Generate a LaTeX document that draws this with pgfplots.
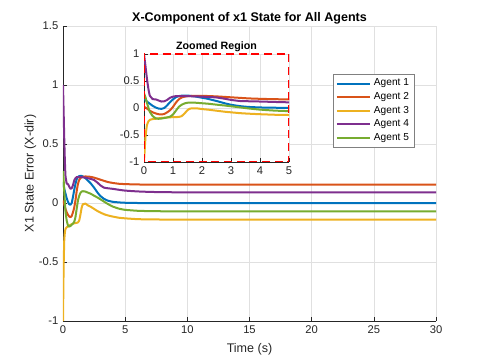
\documentclass[border=0pt]{standalone}
\usepackage{pgfplots}
\pgfplotsset{compat=1.18}
\usepackage{pgfplotstable}
\usepackage{fontspec}
\setmainfont{Liberation Sans}
\definecolor{c1}{rgb}{0,0.447,0.741}
\definecolor{c2}{rgb}{0.85,0.325,0.098}
\definecolor{c3}{rgb}{0.929,0.694,0.125}
\definecolor{c4}{rgb}{0.494,0.184,0.556}
\definecolor{c5}{rgb}{0.466,0.674,0.188}
\definecolor{axc}{rgb}{0.15,0.15,0.15}
\pgfplotstableread{
t    a1      a2      a3      a4      a5
0    0.18    0.02   -1.00    1.00    0.27
0.05 0.15    0.01   -0.55    0.78    0.20
0.1  0.12   -0.01   -0.32    0.55    0.10
0.15 0.10   -0.03   -0.25    0.36    0.01
0.2  0.08   -0.05   -0.22    0.23   -0.07
0.3  0.04   -0.08   -0.205   0.165  -0.15
0.4  0.01   -0.10   -0.20    0.16   -0.19
0.5 -0.01   -0.115  -0.19    0.14   -0.20
0.6 -0.015  -0.12   -0.185   0.12   -0.195
0.7  0.00   -0.11   -0.18    0.125  -0.185
0.8  0.05   -0.08   -0.175   0.15   -0.175
0.9  0.11   -0.04   -0.172   0.19   -0.16
1.0  0.16    0.02   -0.17    0.21   -0.12
1.1  0.20    0.10   -0.168   0.22   -0.05
1.2  0.22    0.16   -0.165   0.22    0.02
1.3  0.228   0.195  -0.15    0.22    0.06
1.4  0.23    0.21   -0.10    0.22    0.085
1.5  0.23    0.218  -0.04    0.22    0.097
1.6  0.225   0.222  -0.01    0.218   0.10
1.8  0.21    0.225  -0.005   0.215   0.097
2.0  0.19    0.224  -0.02    0.21    0.088
2.2  0.17    0.222  -0.03    0.205   0.08
2.5  0.13    0.215  -0.05    0.195   0.062
2.8  0.085   0.205  -0.07    0.17    0.045
3.0  0.06    0.198  -0.08    0.15    0.032
3.3  0.035   0.188  -0.095   0.13    0.012
3.6  0.02    0.178  -0.105   0.125  -0.008
4.0  0.01    0.17   -0.115   0.12   -0.03
4.5  0.005   0.163  -0.125   0.112  -0.048
5.0  0.002   0.16   -0.13    0.105  -0.058
6    0.0     0.157  -0.137   0.098  -0.066
7    0.0     0.156  -0.139   0.094  -0.069
8    0.0     0.155  -0.14    0.092  -0.07
10   0.0     0.155  -0.14    0.09   -0.07
15   0.0     0.155  -0.14    0.09   -0.07
20   0.0     0.155  -0.14    0.09   -0.07
30   0.0     0.155  -0.14    0.09   -0.07
}\data
\pgfplotsset{
  mstyle/.style={
    scale only axis,
    axis lines*=left,
    axis line style={axc,line width=0.5pt},
    tick align=inside,
    major tick length=3pt,
    tick style={axc,line width=0.5pt},
    grid=major,
    major grid style={black!12,line width=0.4pt},
    tick label style={font=\fontsize{8.4}{10}\selectfont,text=axc},
    /pgf/number format/assume math mode=true,
    every axis plot/.append style={line width=1.5pt,line join=round,smooth,tension=0.25},
    clip=true,
  }
}
\begin{document}
\begin{tikzpicture}[x=0.75pt,y=0.75pt]
\useasboundingbox (-63,-40) rectangle (419,321);
\begin{axis}[mstyle,
  at={(0pt,0pt)}, anchor=south west,
  width=279.75pt, height=221.25pt,
  xmin=0, xmax=30, ymin=-1, ymax=1.5,
  xtick={0,5,10,15,20,25,30},
  ytick={-1,-0.5,0,0.5,1,1.5},
  title={X-Component of x1 State for All Agents},
  title style={font=\bfseries\fontsize{9.4}{11}\selectfont, at={(0.5,1)}, anchor=south, yshift=-8pt},
  xlabel={Time (s)},
  xlabel style={font=\fontsize{9.4}{11}\selectfont,text=axc, at={(axis description cs:0.5,0)}, anchor=center, yshift=-21.5pt},
  ylabel={X1 State Error (X-dir)},
  ylabel style={font=\fontsize{9.4}{11}\selectfont,text=axc, at={(axis description cs:0,0.5)}, anchor=center, rotate=0, yshift=24.5pt},
  legend style={at={(rel axis cs:0.724,0.837)}, anchor=north west,
    font=\fontsize{7.6}{9}\selectfont, draw=black!50, line width=0.4pt,
    inner xsep=2pt, inner ysep=1.5pt, row sep=-0.6pt},
  legend cell align=left,
  legend image code/.code={\draw[#1,line width=1.5pt] (0pt,0pt) -- (25pt,0pt);},
]
\addplot[c1] table[x=t,y=a1] {\data}; \addlegendentry{Agent 1}
\addplot[c2] table[x=t,y=a2] {\data}; \addlegendentry{Agent 2}
\addplot[c3] table[x=t,y=a3] {\data}; \addlegendentry{Agent 3}
\addplot[c4] table[x=t,y=a4] {\data}; \addlegendentry{Agent 4}
\addplot[c5] table[x=t,y=a5] {\data}; \addlegendentry{Agent 5}
\end{axis}
\begin{axis}[mstyle,
  at={(60.75pt,119.25pt)}, anchor=south west,
  width=108.75pt, height=81pt,
  xmin=0, xmax=5, ymin=-1, ymax=1,
  xtick={0,1,2,3,4,5},
  ytick={-1,-0.5,0,0.5,1},
  axis background/.style={fill=white},
  title={Zoomed Region},
  title style={font=\bfseries\fontsize{8}{9}\selectfont, at={(0.5,1)}, anchor=south, yshift=-7.5pt},
]
\addplot[c1] table[x=t,y=a1] {\data};
\addplot[c2] table[x=t,y=a2] {\data};
\addplot[c3] table[x=t,y=a3] {\data};
\addplot[c4] table[x=t,y=a4] {\data};
\addplot[c5] table[x=t,y=a5] {\data};
\draw[red, line width=1.5pt, dash pattern=on 6pt off 3.5pt] (rel axis cs:0,0) rectangle (rel axis cs:1,1);
\end{axis}
\end{tikzpicture}
\end{document}
